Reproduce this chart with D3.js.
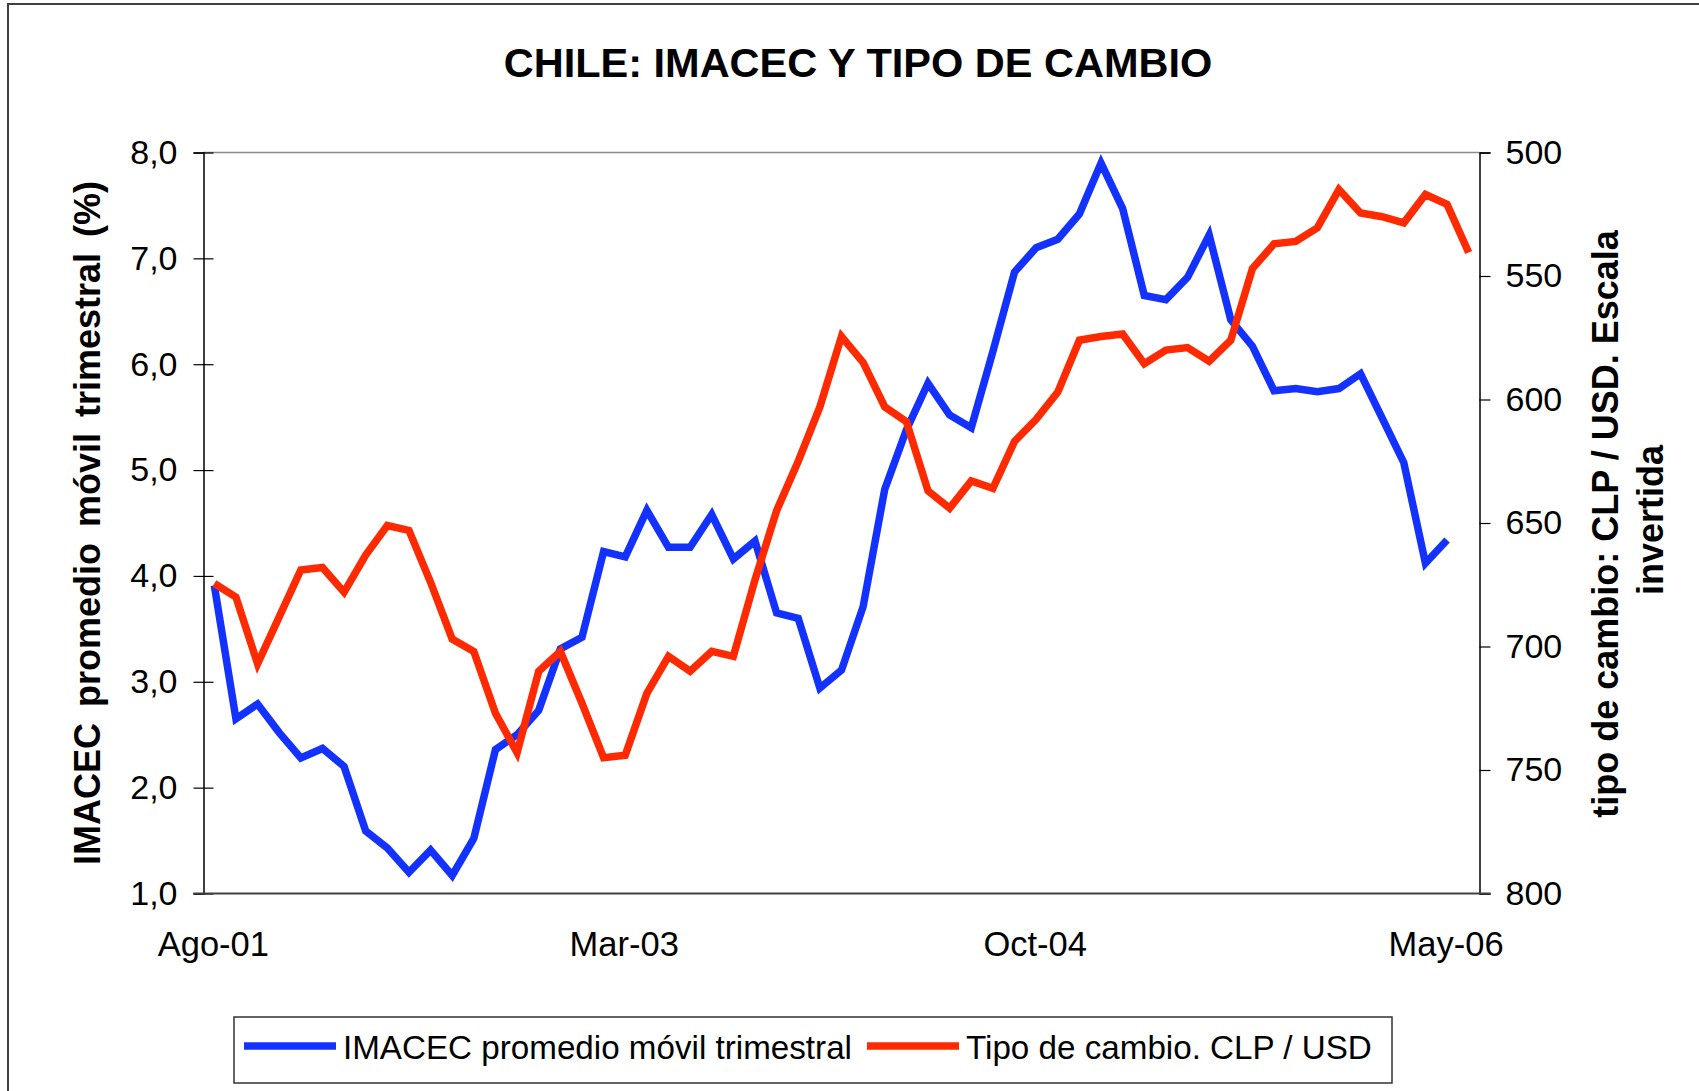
<!DOCTYPE html>
<html>
<head>
<meta charset="utf-8">
<script src="https://cdn.jsdelivr.net/npm/d3@7"></script>
<style>
  body { margin: 0; background: white; }
  svg { display: block; font-family: Arial, "Liberation Sans", sans-serif; }
</style>
</head>
<body>
<div id="chart"></div>
<script>
const months = [
  "Ago-01","Sep-01","Oct-01","Nov-01","Dic-01",
  "Ene-02","Feb-02","Mar-02","Abr-02","May-02","Jun-02","Jul-02","Ago-02","Sep-02","Oct-02","Nov-02","Dic-02",
  "Ene-03","Feb-03","Mar-03","Abr-03","May-03","Jun-03","Jul-03","Ago-03","Sep-03","Oct-03","Nov-03","Dic-03",
  "Ene-04","Feb-04","Mar-04","Abr-04","May-04","Jun-04","Jul-04","Ago-04","Sep-04","Oct-04","Nov-04","Dic-04",
  "Ene-05","Feb-05","Mar-05","Abr-05","May-05","Jun-05","Jul-05","Ago-05","Sep-05","Oct-05","Nov-05","Dic-05",
  "Ene-06","Feb-06","Mar-06","Abr-06","May-06","Jun-06"
];
const xTickLabels = ["Ago-01", "Mar-03", "Oct-04", "May-06"];
const leftTicks = [1, 2, 3, 4, 5, 6, 7, 8];
const rightTicks = [500, 550, 600, 650, 700, 750, 800];

// IMACEC promedio movil trimestral (%), Ago-01 .. May-06
const imacec = [
  3.91, 2.65, 2.79, 2.52, 2.28, 2.37, 2.20, 1.59, 1.43, 1.20,
  1.41, 1.17, 1.52, 2.36, 2.50, 2.73, 3.31, 3.42, 4.23, 4.18,
  4.62, 4.27, 4.27, 4.58, 4.16, 4.33, 3.65, 3.60, 2.94, 3.11,
  3.71, 4.82, 5.38, 5.82, 5.52, 5.40, 6.12, 6.87, 7.10, 7.18,
  7.42, 7.90, 7.47, 6.65, 6.61, 6.82, 7.22, 6.42, 6.17, 5.75,
  5.77, 5.74, 5.77, 5.91, 5.49, 5.07, 4.12, 4.34
];
// Tipo de cambio CLP / USD, Ago-01 .. Jun-06
const tipoCambio = [
  674.5, 680, 707, 688, 669, 668, 678, 663, 651, 653,
  674, 697, 702, 727, 743, 710, 702, 723, 745, 744,
  719, 704, 710, 702, 704, 673, 645, 625, 603, 574.5,
  585, 603, 609, 637, 644, 633, 636, 617, 608, 597,
  576, 574.5, 573.5, 585.5, 580, 579, 584.5, 576, 547, 537,
  536, 530.5, 515, 524.5, 526, 528.5, 517, 521, 540.5
];

const W = 1699, H = 1091;
const PLOT = { left: 203.5, right: 1479.5, top: 152.5, bottom: 893.5 };
const BLUE = "#1432ff";
const RED = "#ff2a00";

const svg = d3.select("#chart").append("svg")
  .attr("width", W)
  .attr("height", H);

svg.append("rect")
  .attr("width", W).attr("height", H)
  .attr("fill", "white");

// outer chart border
svg.append("rect")
  .attr("x", 8).attr("y", 4)
  .attr("width", W + 20).attr("height", H + 20)
  .attr("fill", "none")
  .attr("stroke", "#404040")
  .attr("stroke-width", 2);

const x = d3.scaleBand().domain(months).range([PLOT.left, PLOT.right]);
const cx = d => x(d) + x.bandwidth() / 2;
const yL = d3.scaleLinear().domain([1, 8]).range([PLOT.bottom, PLOT.top]);
const yR = d3.scaleLinear().domain([500, 800]).range([PLOT.top, PLOT.bottom]);

// plot area top border
svg.append("line")
  .attr("x1", PLOT.left).attr("x2", PLOT.right)
  .attr("y1", PLOT.top).attr("y2", PLOT.top)
  .attr("stroke", "#8c8c8c").attr("stroke-width", 1.5);

// left axis
const gL = svg.append("g")
  .attr("transform", `translate(${PLOT.left},0)`)
  .call(d3.axisLeft(yL)
    .tickValues(leftTicks)
    .tickSize(10)
    .tickPadding(16)
    .tickFormat(d => d3.format(".1f")(d).replace(".", ",")));
gL.select(".domain").attr("stroke", "#000").attr("stroke-width", 1.5);
gL.selectAll(".tick line").attr("x1", 10).attr("stroke-width", 1.2);
gL.selectAll(".tick text")
  .style("font-size", "34px")
  .attr("fill", "#000");

// right axis
const gR = svg.append("g")
  .attr("transform", `translate(${PLOT.right},0)`)
  .call(d3.axisRight(yR)
    .tickValues(rightTicks)
    .tickSize(11)
    .tickPadding(15)
    .tickFormat(d3.format("d")));
gR.select(".domain").attr("stroke", "#000").attr("stroke-width", 1.5);
gR.selectAll(".tick line").attr("stroke-width", 1.2);
gR.selectAll(".tick text")
  .style("font-size", "34px")
  .attr("fill", "#000");

// bottom axis
svg.append("line")
  .attr("x1", PLOT.left - 10).attr("x2", PLOT.right + 11)
  .attr("y1", PLOT.bottom).attr("y2", PLOT.bottom)
  .attr("stroke", "#404040").attr("stroke-width", 2);

const gX = svg.append("g")
  .attr("transform", `translate(-1,${PLOT.bottom})`)
  .call(d3.axisBottom(x)
    .tickValues(xTickLabels)
    .tickSize(0)
    .tickPadding(38));
gX.select(".domain").remove();
gX.selectAll(".tick text")
  .style("font-size", "34.5px")
  .attr("fill", "#000");

// lines
const lineL = d3.line()
  .x((d, i) => cx(months[i]))
  .y(d => yL(d));
const lineR = d3.line()
  .x((d, i) => cx(months[i]))
  .y(d => yR(d));

svg.append("path")
  .datum(imacec)
  .attr("d", lineL)
  .attr("fill", "none")
  .attr("stroke", BLUE)
  .attr("stroke-width", 7.5)
  .attr("stroke-linejoin", "miter");

svg.append("path")
  .datum(tipoCambio)
  .attr("d", lineR)
  .attr("fill", "none")
  .attr("stroke", RED)
  .attr("stroke-width", 7.5)
  .attr("stroke-linejoin", "miter");

// title
svg.append("text")
  .attr("x", 858)
  .attr("y", 77)
  .attr("text-anchor", "middle")
  .style("font-size", "41.5px")
  .style("font-weight", 700)
  .text("CHILE: IMACEC Y TIPO DE CAMBIO");

// axis titles
svg.append("text")
  .attr("transform", "translate(100,523) rotate(-90)")
  .attr("text-anchor", "middle")
  .style("font-size", "36px")
  .style("font-weight", 700)
  .style("word-spacing", "6px")
  .text("IMACEC promedio móvil trimestral (%)");

svg.append("text")
  .attr("transform", "translate(1618,524) rotate(-90)")
  .attr("text-anchor", "middle")
  .style("font-size", "36px")
  .style("font-weight", 700)
  .text("tipo de cambio: CLP / USD. Escala");

svg.append("text")
  .attr("transform", "translate(1663,520) rotate(-90)")
  .attr("text-anchor", "middle")
  .style("font-size", "36px")
  .style("font-weight", 700)
  .text("invertida");

// legend
const legend = svg.append("g");
legend.append("rect")
  .attr("x", 234).attr("y", 1017)
  .attr("width", 1158).attr("height", 66)
  .attr("fill", "white")
  .attr("stroke", "#333")
  .attr("stroke-width", 1.5);

const legendItems = [
  { label: "IMACEC promedio móvil trimestral", color: BLUE, x: 244 },
  { label: "Tipo de cambio. CLP / USD", color: RED, x: 867 }
];
legendItems.forEach(it => {
  legend.append("line")
    .attr("x1", it.x).attr("x2", it.x + 92)
    .attr("y1", 1046).attr("y2", 1046)
    .attr("stroke", it.color)
    .attr("stroke-width", 7.5);
  legend.append("text")
    .attr("x", it.x + 99)
    .attr("y", 1059)
    .style("font-size", "33.2px")
    .text(it.label);
});
</script>
</body>
</html>
